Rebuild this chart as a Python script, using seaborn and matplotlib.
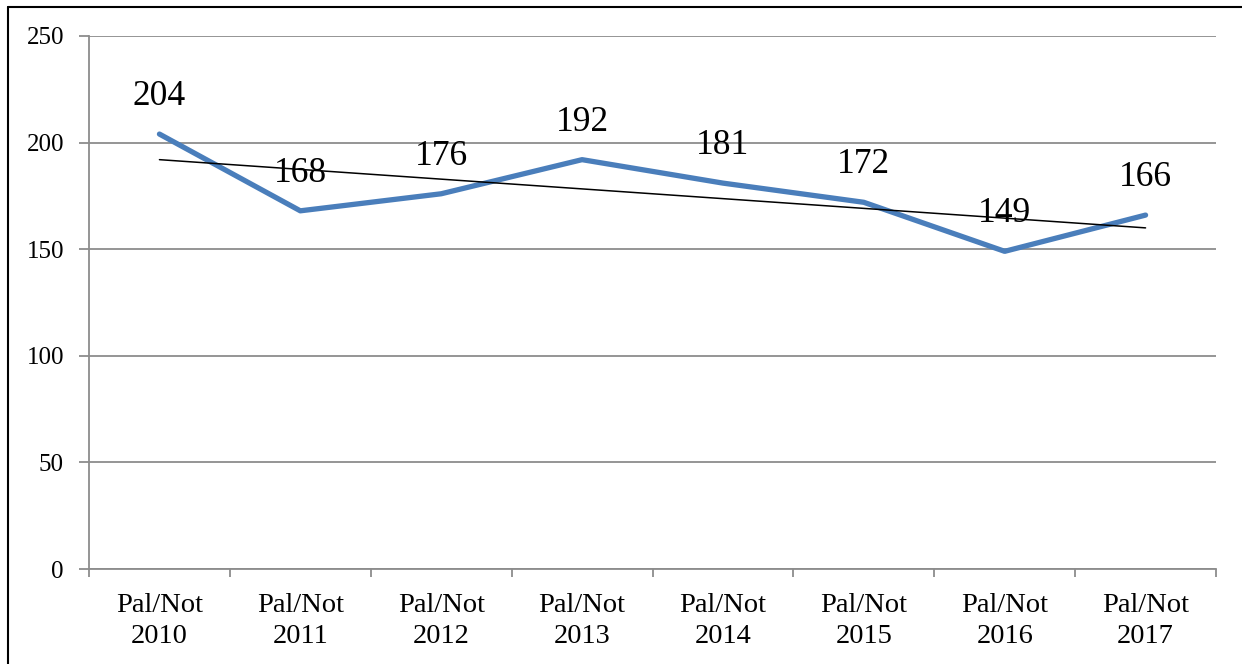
import seaborn as sns
import matplotlib.pyplot as plt
from matplotlib.lines import Line2D
import numpy as np

# chart data
categories = ["Pal/Not\n2010", "Pal/Not\n2011", "Pal/Not\n2012", "Pal/Not\n2013",
              "Pal/Not\n2014", "Pal/Not\n2015", "Pal/Not\n2016", "Pal/Not\n2017"]
values = [204, 168, 176, 192, 181, 172, 149, 166]
y_ticks = [0, 50, 100, 150, 200, 250]

sns.set_style("white")
plt.rcParams["font.family"] = ["Liberation Serif", "DejaVu Serif"]
plt.rcParams["text.color"] = "black"
plt.rcParams["xtick.labelcolor"] = "black"
plt.rcParams["ytick.labelcolor"] = "black"

fig = plt.figure(figsize=(12.42, 6.64), dpi=100)
ax = fig.add_axes([89 / 1242, 1 - 569 / 664, 1127 / 1242, 533 / 664])

pos = np.arange(len(values))
grid_col = "#8c8c8c"

# blue data line
sns.lineplot(x=pos, y=values, ax=ax, color="#4a7ebb", linewidth=3.8,
             solid_capstyle="round", zorder=3)
# linear trendline
sns.regplot(x=pos, y=values, ax=ax, scatter=False, ci=None,
            line_kws={"color": "black", "linewidth": 1.1, "zorder": 4})

for x, v in zip(pos, values):
    ax.annotate(str(v), (x, v), xytext=(0, 27), textcoords="offset points",
                ha="center", va="center", fontsize=25.5, color="black", zorder=5)

ax.set_xlim(-0.5, len(values) - 0.5)
ax.set_ylim(0, 250)
ax.set_yticks(y_ticks)
ax.set_yticklabels([str(t) for t in y_ticks], fontsize=18)
ax.yaxis.grid(True, color=grid_col, linewidth=1.3)
ax.xaxis.grid(False)

# boundary ticks between categories, labels at centers
ax.set_xticks(np.arange(-0.5, len(values), 1.0))
ax.set_xticklabels([])
ax.set_xticks(pos, minor=True)
ax.set_xticklabels(categories, minor=True, fontsize=20.5, linespacing=1.35)
ax.tick_params(axis="x", which="major", direction="out", length=6, width=1.3,
               color=grid_col, bottom=True)
ax.tick_params(axis="x", which="minor", length=0, pad=17)
ax.tick_params(axis="y", direction="out", length=7, width=1.3, color=grid_col,
               left=True, pad=11)

for side in ["top", "right"]:
    ax.spines[side].set_visible(False)
for side in ["left", "bottom"]:
    ax.spines[side].set_color(grid_col)
    ax.spines[side].set_linewidth(1.3)

ax.set_xlabel("")
ax.set_ylabel("")

# outer frame (cropped on right and bottom)
fx, fy = 8 / 1242, 1 - 7 / 664
fig.add_artist(Line2D([fx, fx], [0, fy], color="black", linewidth=1.5))
fig.add_artist(Line2D([fx, 1], [fy, fy], color="black", linewidth=1.5))

fig.savefig("out.png", dpi=100)
